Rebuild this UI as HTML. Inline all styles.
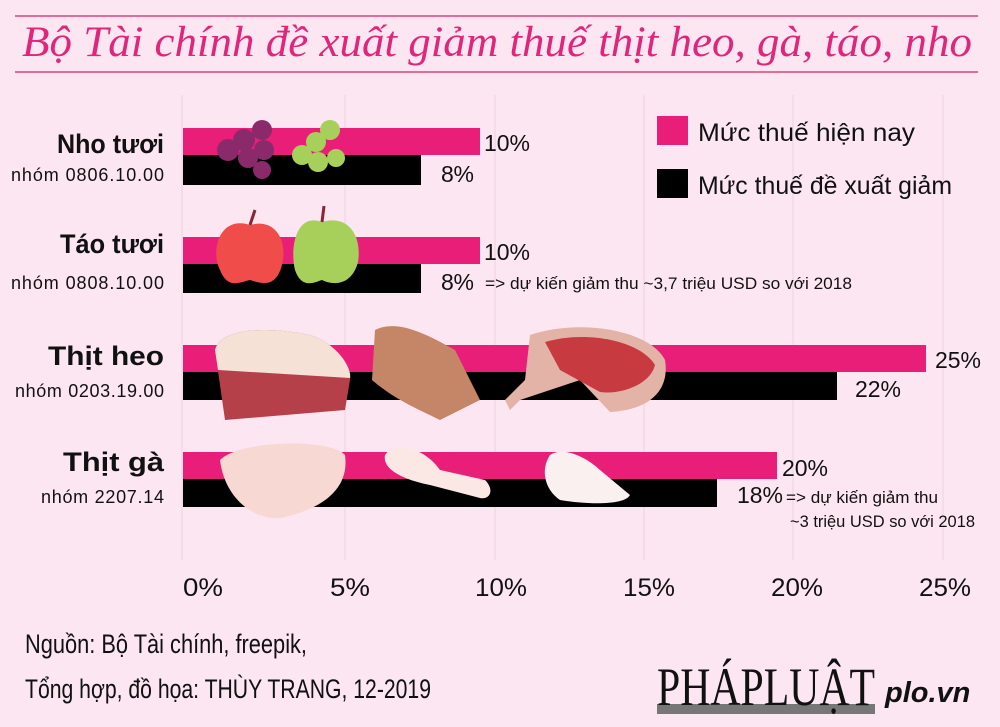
<!DOCTYPE html>
<html><head><meta charset="utf-8"><style>
body{margin:0;width:1000px;height:727px;background:#fce6f1;overflow:hidden}
svg{display:block}
.n{font-family:"Liberation Sans",sans-serif}
</style></head><body>
<svg width="1000" height="727" viewBox="0 0 1000 727" xmlns="http://www.w3.org/2000/svg">
<rect width="1000" height="727" fill="#fce6f1"/>
<line x1="15" y1="16" x2="978" y2="16" stroke="#d6467f" stroke-width="1.5"/>
<line x1="15" y1="72" x2="978" y2="72" stroke="#d6467f" stroke-width="1.5"/>
<text x="497" y="56" text-anchor="middle" font-family="Liberation Serif,serif" font-style="italic" font-size="43" fill="#e0267b" textLength="950" lengthAdjust="spacingAndGlyphs">Bộ Tài chính đề xuất giảm thuế thịt heo, gà, táo, nho</text>
<g stroke="#ecd3df" stroke-width="1">
<line x1="182" y1="95" x2="182" y2="560"/><line x1="345" y1="95" x2="345" y2="560"/><line x1="495" y1="95" x2="495" y2="560"/><line x1="644" y1="95" x2="644" y2="560"/><line x1="793" y1="95" x2="793" y2="560"/><line x1="943" y1="95" x2="943" y2="560"/>
</g>
<g fill="#e91e78">
<rect x="183" y="128" width="297" height="27"/><rect x="183" y="237" width="297" height="27"/><rect x="183" y="345" width="743" height="27"/><rect x="183" y="452" width="594" height="27"/>
</g>
<g fill="#000">
<rect x="183" y="155" width="238" height="30"/><rect x="183" y="264" width="238" height="29"/><rect x="183" y="372" width="654" height="28"/><rect x="183" y="479" width="534" height="28"/>
</g>
<!-- grapes -->
<g fill="#8a2a6a"><circle cx="228" cy="150" r="11"/><circle cx="244" cy="140" r="11"/><circle cx="262" cy="130" r="10"/><circle cx="248" cy="158" r="10"/><circle cx="264" cy="150" r="10"/><circle cx="262" cy="170" r="9"/></g>
<g fill="#a6d05a"><circle cx="302" cy="155" r="10"/><circle cx="316" cy="142" r="10"/><circle cx="330" cy="130" r="10"/><circle cx="318" cy="162" r="10"/><circle cx="336" cy="158" r="9"/></g>
<!-- apples -->
<path d="M250 225 C220 215 210 250 220 270 C228 290 240 282 250 280 C262 284 276 288 282 265 C288 240 275 218 250 225Z" fill="#ef4c4a"/>
<path d="M322 222 C295 212 290 250 295 270 C302 290 315 282 322 280 C334 286 352 285 358 262 C362 238 350 214 322 222Z" fill="#a6d05a"/>
<path d="M250 225 L255 210" stroke="#8b2332" stroke-width="3"/><path d="M322 222 L324 206" stroke="#8b2332" stroke-width="3"/>
<!-- pork -->
<path d="M215 350 C220 330 260 325 310 335 C340 345 352 370 350 380 L345 410 L225 420 Z" fill="#b5404a"/>
<path d="M215 350 C220 330 260 325 310 335 C340 345 352 370 350 378 L218 370Z" fill="#f5e1d5"/>
<path d="M375 330 C395 320 420 330 455 350 L480 400 L440 420 C420 410 395 400 372 380 Z" fill="#c58567"/>
<path d="M530 335 C580 318 650 330 665 360 C670 390 650 410 610 412 L580 380 L520 400 L510 410 L505 400 L525 380 Z" fill="#e3b3a8"/>
<path d="M545 342 C585 330 640 340 655 365 C650 385 620 395 600 392 L560 370Z" fill="#c73a40"/>
<!-- chicken -->
<path d="M220 460 C240 440 330 438 345 455 C350 490 320 510 280 518 C255 520 225 500 220 460Z" fill="#f7d8d3"/>
<path d="M385 455 C395 440 425 448 440 470 L485 480 C495 490 490 500 480 498 L430 485 C405 480 382 470 385 455Z" fill="#fbe8e4"/>
<path d="M550 455 C565 445 590 460 600 470 L630 495 C625 505 590 505 560 500 C545 490 540 470 550 455Z" fill="#faf0ef"/>
<g class="n" font-size="23" fill="#111" lengthAdjust="spacingAndGlyphs">
<text x="484" y="151" textLength="46">10%</text><text x="441" y="182" textLength="33">8%</text>
<text x="484" y="260" textLength="46">10%</text><text x="441" y="290" textLength="33">8%</text>
<text x="935" y="368" textLength="46">25%</text><text x="855" y="397" textLength="46">22%</text>
<text x="782" y="476" textLength="46">20%</text><text x="737" y="503" textLength="46">18%</text>
</g>
<g class="n" font-size="17" fill="#111">
<text x="485" y="289" textLength="367" lengthAdjust="spacingAndGlyphs">=&gt; dự kiến giảm thu  ~3,7 triệu USD so với 2018</text>
<text x="786" y="503" textLength="152" lengthAdjust="spacingAndGlyphs">=&gt; dự kiến giảm thu</text>
<text x="790" y="527" textLength="185" lengthAdjust="spacingAndGlyphs">~3 triệu USD so với 2018</text>
</g>
<g class="n" font-weight="bold" fill="#111" font-size="27">
<text x="57" y="153" textLength="107" lengthAdjust="spacingAndGlyphs">Nho tươi</text><text x="60" y="253" textLength="104" lengthAdjust="spacingAndGlyphs">Táo tươi</text><text x="48" y="365" textLength="116" lengthAdjust="spacingAndGlyphs">Thịt heo</text><text x="63" y="471" textLength="101" lengthAdjust="spacingAndGlyphs">Thịt gà</text>
</g>
<g class="n" fill="#111" font-size="18" lengthAdjust="spacingAndGlyphs">
<text x="11" y="181" textLength="153">nhóm 0806.10.00</text><text x="11" y="289" textLength="153">nhóm 0808.10.00</text><text x="15" y="397" textLength="149">nhóm 0203.19.00</text><text x="41" y="503" textLength="123">nhóm 2207.14</text>
</g>
<rect x="657" y="116" width="31" height="29" fill="#e91e78"/>
<rect x="657" y="169" width="31" height="29" fill="#000"/>
<g class="n" font-size="25" fill="#111"><text x="698" y="141" textLength="217" lengthAdjust="spacingAndGlyphs">Mức thuế hiện nay</text><text x="698" y="194" textLength="254" lengthAdjust="spacingAndGlyphs">Mức thuế đề xuất giảm</text></g>
<g class="n" font-size="25" fill="#111" text-anchor="middle">
<text x="203" y="596" textLength="40" lengthAdjust="spacingAndGlyphs">0%</text><text x="350" y="596" textLength="40" lengthAdjust="spacingAndGlyphs">5%</text><text x="501" y="596" textLength="52" lengthAdjust="spacingAndGlyphs">10%</text><text x="649" y="596" textLength="52" lengthAdjust="spacingAndGlyphs">15%</text><text x="797" y="596" textLength="52" lengthAdjust="spacingAndGlyphs">20%</text><text x="945" y="596" textLength="52" lengthAdjust="spacingAndGlyphs">25%</text>
</g>
<g class="n" font-size="27" fill="#111"><text x="25" y="653" textLength="282" lengthAdjust="spacingAndGlyphs">Nguồn: Bộ Tài chính, freepik,</text><text x="25" y="698" textLength="406" lengthAdjust="spacingAndGlyphs">Tổng hợp, đồ họa: THÙY TRANG, 12-2019</text></g>
<rect x="657" y="704" width="218" height="10" fill="#777"/>
<text x="657" y="705" font-family="Liberation Serif,serif" font-size="54" fill="#111" textLength="218" lengthAdjust="spacingAndGlyphs">PHÁPLUẬT</text>
<text x="885" y="702" font-family="Liberation Sans,sans-serif" font-weight="bold" font-style="italic" font-size="29" fill="#111">plo.vn</text>
</svg>
</body></html>
